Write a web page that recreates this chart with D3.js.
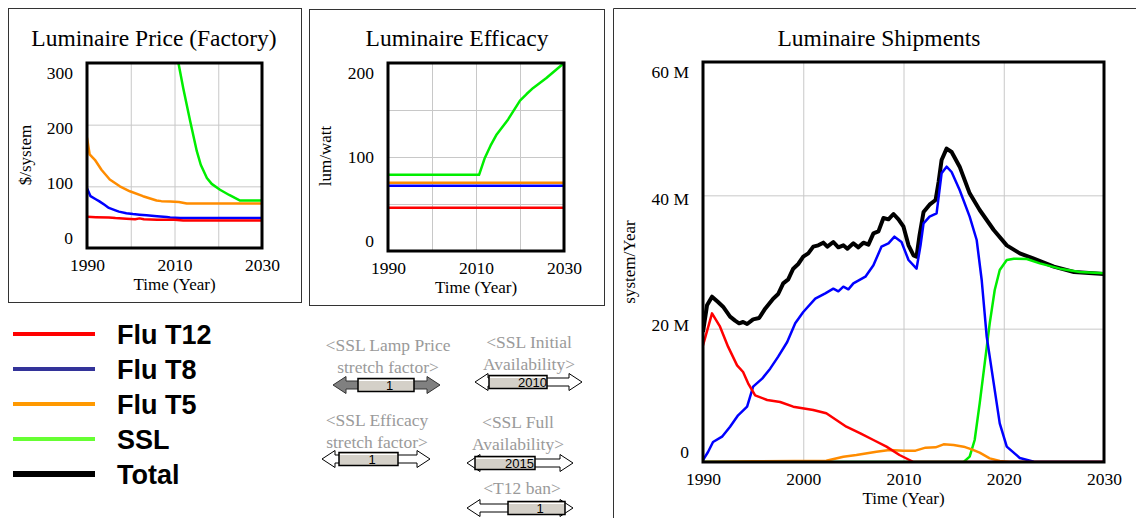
<!DOCTYPE html>
<html><head><meta charset="utf-8">
<script src="https://cdn.jsdelivr.net/npm/d3@7"></script>
<style>
body{margin:0;background:#fff;}
svg{display:block;}
text{font-family:"Liberation Serif","Times New Roman",serif;}
text.sans{font-family:"Liberation Sans",Arial,sans-serif;}
</style></head><body>
<svg id="c" width="1136" height="518"></svg>
<script>
// ---------------- data ----------------
const seriesNames = ["Flu T12", "Flu T8", "Flu T5", "SSL", "Total"];
const legendColors = ["#ff0000", "#333399", "#ff9900", "#66ff33", "#000000"];
const lineColors = ["#ff0000", "#0000ff", "#ff8c00", "#00ee00", "#000000"];

// Luminaire Price (Factory), $/system
const priceT12 = [[1990,50.5],[1992,50],[1995,49.5],[1996.5,48.5],[1999,47.5],[2001,46.5],[2002,48],[2003,46.5],[2006,46],[2010,46],[2012,44.5],[2030,44.5]];
const priceT8 = [[1990,97],[1990.8,84],[1992,79],[1992.75,76],[1994,70],[1995,65],[1996.5,61],[1997.3,59],[1999,56.5],[2000.5,55],[2002,54],[2003.6,53],[2006,51.5],[2008.2,50.3],[2009,49.5],[2011.3,48.6],[2030,48.6]];
const priceT5 = [[1990,179],[1990.6,152],[1991.8,143],[1993.3,127],[1995.2,111],[1997.5,100],[1999.8,92],[2002.8,84],[2005.9,77],[2007,76],[2009,75.6],[2011,74.5],[2012.8,72],[2030,72]];
const priceSSL = [[2010.5,330],[2010.9,300],[2012,259],[2013.6,205],[2015.1,157],[2016,135],[2017.4,113.5],[2018.5,104],[2020.4,94.5],[2022.5,86],[2025,77],[2030,77]];
const priceYTicks = [0, 100, 200, 300];
const priceYGrid = [100, 200];

// Luminaire Efficacy, lum/watt
const effT12 = [[1990,46],[2030,46]];
const effT8 = [[1990,69.5],[2030,69.5]];
const effT5 = [[1990,72.5],[2030,72.5]];
const effSSL = [[1990,81],[2010.7,81],[2012,99],[2013.3,112],[2014.7,124],[2017.3,140],[2020,160],[2021.5,167],[2023,173.5],[2026,184],[2030,200]];
const effYTicks = [0, 100, 200];
const effYGrid = [50, 100, 150];

// Luminaire Shipments, million systems / Year
const shipT12 = [[1990,17.5],[1990.9,22.3],[1991.7,20.3],[1992.5,17.3],[1993.4,14.5],[1994,13.5],[1994.5,11.8],[1995.2,10],[1996.4,9.3],[1997.7,9],[1999,8.3],[2001,7.8],[2002.3,7.3],[2003.3,6.3],[2004.3,5.3],[2005.7,4.3],[2007,3.3],[2008.3,2.3],[2009.6,1.05],[2010.6,0.3],[2011,0],[2030,0]];
const shipT8 = [[1990,0.3],[1990.5,1.5],[1991,3],[1991.9,3.8],[1992.7,5.3],[1993.5,7],[1994.4,8.3],[1995,11.3],[1995.9,12.5],[1996.7,14],[1997.5,15.8],[1998.4,18],[1999.2,20.8],[2000,22.5],[2001.2,24.5],[2002.2,25.3],[2003,26],[2003.5,25.6],[2004,26.3],[2004.5,25.9],[2005,26.8],[2006.2,27.8],[2007,29.5],[2007.8,32.3],[2008.5,32.8],[2009.1,33.8],[2009.8,33],[2010.5,30.3],[2011.3,29],[2011.7,32.5],[2012,35.8],[2012.6,36.8],[2013.3,37.3],[2013.8,43.3],[2014.3,44.3],[2014.8,43.5],[2015.6,40.8],[2016.6,36.8],[2017.3,33.3],[2017.8,27.3],[2018.3,18.8],[2019,11.8],[2019.6,5.8],[2020.3,2.3],[2021.6,0.6],[2023,0.05],[2030,0]];
const shipT5 = [[1990,0],[1995,0.1],[2002.3,0.2],[2004,0.8],[2005.3,1.05],[2007.3,1.55],[2008.6,1.8],[2010,1.7],[2011.2,1.7],[2012.2,2.15],[2013.2,2.2],[2014,2.65],[2015,2.55],[2016,2.3],[2016.8,1.9],[2017.6,1.4],[2018.6,0.55],[2019.6,0.15],[2020.6,0],[2030,0]];
const shipSSL = [[1990,0],[2016,0],[2016.6,0.8],[2017.1,3.3],[2017.6,8.8],[2018.1,14.8],[2018.6,20.8],[2019.1,25.8],[2019.6,28.8],[2020.3,30.3],[2021,30.5],[2022.3,30.45],[2023.6,29.8],[2025.6,29],[2027.6,28.5],[2030,28.3]];
const shipTotal = [[1990,19.5],[1990.4,23.5],[1990.9,24.8],[1991.5,24],[1992,23.3],[1992.7,21.8],[1993.2,21.2],[1993.6,20.8],[1994,21],[1994.4,20.7],[1995,21.4],[1995.6,21.6],[1996.2,23],[1997,24.5],[1997.5,25.2],[1998,26.8],[1998.5,27.4],[1999,29],[1999.5,29.7],[2000,30.8],[2000.5,31.3],[2001,32.3],[2001.5,32.5],[2002,32.9],[2002.4,32.3],[2003,33],[2003.5,32.2],[2004,32.5],[2004.4,32],[2005,32.8],[2005.5,32.2],[2006,32.9],[2006.5,32.6],[2007,34.3],[2007.5,34.6],[2008,36.6],[2008.5,36.4],[2009,37.2],[2009.5,36.4],[2010,35.3],[2010.5,32.5],[2011,31],[2011.3,30.8],[2011.6,34],[2012,37.5],[2012.6,38.6],[2013.2,39.3],[2013.5,42],[2013.8,45.3],[2014.3,47],[2014.8,46.5],[2015.6,44.3],[2016.6,40.3],[2017.6,37.8],[2019,34.8],[2020.3,32.5],[2021.6,31.3],[2023,30.5],[2025,29.3],[2027,28.5],[2030,28.2]];
const shipYTicks = [0, 20, 40, 60];
const shipYGrid = [20, 40];

const timeDomain = [1990, 2030];
const smallXTicks = [1990, 2010, 2030];
const bigXTicks = [1990, 2000, 2010, 2020, 2030];
const xGrid = [2000, 2010, 2020];

// slider widgets
const sliderLabels = [["<SSL Lamp Price", "stretch factor>"], ["<SSL Initial", "Availability>"], ["<SSL Efficacy", "stretch factor>"], ["<SSL Full", "Availability>"], ["<T12 ban>"]];
const sliderValues = ["1", "2010", "1", "2015", "1"];

// ---------------- drawing ----------------
const svg = d3.select("#c");

function drawPanel(cfg) {
  const {l, t, r, b} = cfg.plot;
  const g = svg.append("g");
  const x = d3.scaleLinear().domain(timeDomain).range([l, r]);
  const y = d3.scaleLinear().domain([0, cfg.yMax]).range([b, t]);
  const yLab = d3.scaleLinear().domain([0, cfg.yMax]).range([b - 10.5, t + 10]);

  g.append("text").attr("x", cfg.titleX).attr("y", 46).attr("text-anchor", "middle")
    .style("font-size", "23.5px").text(cfg.title);

  const gx = g.append("g").attr("transform", `translate(0,${b})`)
    .call(d3.axisBottom(x).tickValues(xGrid).tickSize(-(b - t)).tickFormat(""));
  gx.select(".domain").remove();
  gx.selectAll("line").attr("stroke", "#c8c8c8").attr("stroke-width", 1);
  const gy = g.append("g").attr("transform", `translate(${l},0)`)
    .call(d3.axisLeft(y).tickValues(cfg.yGrid).tickSize(-(r - l)).tickFormat(""));
  gy.select(".domain").remove();
  gy.selectAll("line").attr("stroke", "#c8c8c8").attr("stroke-width", 1);

  const ly = g.append("g").attr("transform", `translate(${l},0)`)
    .call(d3.axisLeft(yLab).tickValues(cfg.yTicks).tickSize(0).tickPadding(14).tickFormat(cfg.yFmt));
  ly.select(".domain").remove();
  ly.selectAll("text").style("font-size", "17.5px").attr("fill", "#000");

  const lx = g.append("g").attr("transform", `translate(0,${b})`)
    .call(d3.axisBottom(x).tickValues(cfg.xTicks).tickSize(0).tickFormat(d3.format("d")));
  lx.select(".domain").remove();
  lx.selectAll("text").attr("dy", null).attr("y", 23).style("font-size", "17.5px").attr("fill", "#000");

  g.append("text").attr("x", (l + r) / 2).attr("y", b + 42).attr("text-anchor", "middle")
    .style("font-size", "17px").text("Time (Year)");
  g.append("text").attr("transform", `translate(${cfg.ylabX},${cfg.ylabY}) rotate(-90)`)
    .attr("text-anchor", "middle").attr("dy", "0.35em").style("font-size", "17px").text(cfg.ylab);

  const cid = "clip" + cfg.id;
  svg.append("clipPath").attr("id", cid).append("rect")
    .attr("x", l).attr("y", t).attr("width", r - l).attr("height", b - t);
  const line = d3.line().x(d => x(d[0])).y(d => y(d[1]));
  const lg = g.append("g").attr("clip-path", `url(#${cid})`);
  for (let i = cfg.series.length - 1; i >= 0; i--) {
    const s = cfg.series[i];
    if (!s) continue;
    lg.append("path").datum(s).attr("d", line).attr("fill", "none")
      .attr("stroke", lineColors[i]).attr("stroke-width", i === 4 ? 4 : 2.5)
      .attr("stroke-linejoin", "round");
  }
  g.append("rect").attr("x", l).attr("y", t).attr("width", r - l).attr("height", b - t)
    .attr("fill", "none").attr("stroke", "#000").attr("stroke-width", 3);
}

svg.append("rect").attr("x", 8.5).attr("y", 8.5).attr("width", 293).attr("height", 294)
  .attr("fill", "none").attr("stroke", "#333").attr("stroke-width", 1);
svg.append("rect").attr("x", 309.5).attr("y", 9.5).attr("width", 295).attr("height", 296)
  .attr("fill", "none").attr("stroke", "#333").attr("stroke-width", 1);
svg.append("path").attr("d", "M613.5,518V8.5H1136").attr("fill", "none")
  .attr("stroke", "#333").attr("stroke-width", 1);

drawPanel({id: 1, title: "Luminaire Price (Factory)", titleX: 154, plot: {l: 87, t: 63, r: 262, b: 248},
  yMax: 300, yTicks: priceYTicks, yGrid: priceYGrid, yFmt: d3.format("d"), xTicks: smallXTicks,
  ylab: "$/system", ylabX: 25, ylabY: 155, series: [priceT12, priceT8, priceT5, priceSSL, null]});
drawPanel({id: 2, title: "Luminaire Efficacy", titleX: 457, plot: {l: 388, t: 63, r: 564, b: 251},
  yMax: 200, yTicks: effYTicks, yGrid: effYGrid, yFmt: d3.format("d"), xTicks: smallXTicks,
  ylab: "lum/watt", ylabX: 325, ylabY: 156, series: [effT12, effT8, effT5, effSSL, null]});
drawPanel({id: 3, title: "Luminaire Shipments", titleX: 879, plot: {l: 703, t: 62, r: 1104, b: 462},
  yMax: 60, yTicks: shipYTicks, yGrid: shipYGrid, yFmt: d => d === 0 ? "0" : d + " M", xTicks: bigXTicks,
  ylab: "system/Year", ylabX: 629, ylabY: 262, series: [shipT12, shipT8, shipT5, shipSSL, shipTotal]});

// legend
const leg = svg.append("g");
seriesNames.forEach((n, i) => {
  const cy = 334 + i * 35;
  leg.append("line").attr("x1", 13).attr("x2", 95).attr("y1", cy).attr("y2", cy)
    .attr("stroke", legendColors[i]).attr("stroke-width", i === 4 ? 6 : 4);
  leg.append("text").attr("class", "sans").attr("x", 117).attr("y", cy + 10)
    .style("font-weight", "bold").style("font-size", "27px").attr("fill", "#000").text(n);
});

// sliders
const sliderLayout = [
  {tx: 388, ty: 351, ax1: 333, ax2: 440, cy: 385, bx1: 358, bx2: 414, dark: true},
  {tx: 529, ty: 348, ax1: 475, ax2: 582, cy: 382, bx1: 489, bx2: 547},
  {tx: 377, ty: 426, ax1: 322, ax2: 430, cy: 459, bx1: 339, bx2: 398},
  {tx: 518, ty: 428, ax1: 467, ax2: 573, cy: 463, bx1: 475, bx2: 535},
  {tx: 522, ty: 494, ax1: 467, ax2: 573, cy: 508, bx1: 508, bx2: 565}
];
function arrowPath(x1, x2, cy) {
  const hw = 13, hh = 8.5, sh = 4;
  return `M${x1},${cy}L${x1 + hw},${cy - hh}L${x1 + hw},${cy - sh}L${x2 - hw},${cy - sh}L${x2 - hw},${cy - hh}L${x2},${cy}` +
    `L${x2 - hw},${cy + hh}L${x2 - hw},${cy + sh}L${x1 + hw},${cy + sh}L${x1 + hw},${cy + hh}Z`;
}
const sg = svg.append("g");
sliderLabels.forEach((lines, i) => {
  const L = sliderLayout[i];
  lines.forEach((s, j) => {
    sg.append("text").attr("x", L.tx).attr("y", L.ty + j * 21.5).attr("text-anchor", "middle")
      .style("font-size", "17.5px").attr("fill", "#9a9a9a").text(s);
  });
  sg.append("path").attr("d", arrowPath(L.ax1, L.ax2, L.cy))
    .attr("fill", L.dark ? "#808080" : "#fff").attr("stroke", L.dark ? "#333" : "#000").attr("stroke-width", 1);
  sg.append("rect").attr("x", L.bx1).attr("y", L.cy - 6.5).attr("width", L.bx2 - L.bx1).attr("height", 13)
    .attr("fill", "#d4d0c8").attr("stroke", "#000").attr("stroke-width", 1.5);
  sg.append("line").attr("x1", L.bx1 + 1).attr("x2", L.bx2 - 1).attr("y1", L.cy - 4.5).attr("y2", L.cy - 4.5)
    .attr("stroke", "#fff").attr("stroke-width", 1);
  sg.append("text").attr("class", "sans").attr("x", (L.bx1 + L.bx2) / 2).attr("y", L.cy + 5)
    .style("font-size", "13px").attr("fill", "#000").text(sliderValues[i]);
});
</script>
</body></html>
